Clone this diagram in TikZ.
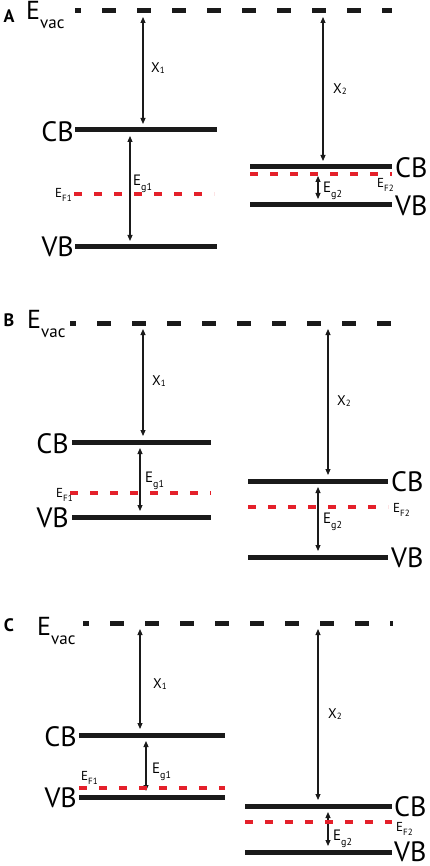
\documentclass[tikz,border=0pt]{standalone}
\usepackage{fontspec}
\setmainfont{PT Sans}
\usetikzlibrary{arrows.meta}
\definecolor{fermiRed}{HTML}{E4202A}
\definecolor{levelBlack}{HTML}{1A1A1A}

\newcommand{\bigsz}{\fontsize{28}{28}\selectfont}
\newcommand{\Evac}{{\fontsize{26}{26}\selectfont E}\raisebox{-9pt}{\fontsize{17}{17}\selectfont vac}}
\newcommand{\Xlab}[1]{{\fontsize{14}{14}\selectfont X}\raisebox{-1pt}{\fontsize{9}{9}\selectfont #1}}
\newcommand{\Eglab}[1]{{\fontsize{15}{15}\selectfont E}\raisebox{-5pt}{\fontsize{10}{10}\selectfont g#1}}
\newcommand{\EFlab}[1]{{\fontsize{13}{13}\selectfont E}\raisebox{-4pt}{\fontsize{9}{9}\selectfont F#1}}

\begin{document}
\begin{tikzpicture}[
    x=1pt, y=-1pt,
    bandline/.style={line width=5pt, levelBlack},
    vacline/.style={line width=5pt, levelBlack, dash pattern=on 14pt off 21pt, dash phase=8pt},
    fermiline/.style={line width=3.5pt, fermiRed, dash pattern=on 8pt off 12pt},
    gaparrow/.style={{Triangle[length=6pt,width=5pt]}-{Triangle[length=6pt,width=5pt]}, line width=1.1pt, levelBlack, shorten <=6pt, shorten >=6pt},
    bandlab/.style={font=\bigsz, inner sep=0pt},
    sublab/.style={inner sep=0pt, anchor=base west},
    panellab/.style={font=\fontsize{18}{18}\selectfont\bfseries, inner sep=0pt}
  ]
  \useasboundingbox (0,0) rectangle (429,866);

  % panel A
  \node[panellab] (A) at (9,16) {A};
  \node[sublab] (A-evac) at (26,20) {\Evac};
  \draw[vacline] (75,11) -- (392,11);
  \draw[bandline] (75,130) -- (217,130);
  \draw[bandline] (75,247) -- (217,247);
  \draw[bandline] (250,167) -- (392,167);
  \draw[bandline] (250,205) -- (392,205);
  \node[bandlab, anchor=east] (A-cb1) at (74,132) {CB};
  \node[bandlab, anchor=east] (A-vb1) at (74,247) {VB};
  \node[bandlab, anchor=west] (A-cb2) at (395,168) {CB};
  \node[bandlab, anchor=west] (A-vb2) at (395,206) {VB};
  \coordinate (A-x1a) at (143,11);  \coordinate (A-x1b) at (143,130);
  \coordinate (A-g1a) at (130,130); \coordinate (A-g1b) at (130,247);
  \coordinate (A-x2a) at (323,11);  \coordinate (A-x2b) at (323,167);
  \coordinate (A-g2a) at (318,170); \coordinate (A-g2b) at (318,205);
  \draw[gaparrow] (A-x1a) -- (A-x1b);
  \draw[gaparrow] (A-g1a) -- (A-g1b);
  \draw[gaparrow] (A-x2a) -- (A-x2b);
  \draw[gaparrow] (A-g2a) -- (A-g2b);
  \draw[fermiline] (74,194) -- (214,194);
  \draw[fermiline] (250,174) -- (392,174);
  \node[sublab] (A-chi1) at (151,73) {\Xlab{1}};
  \node[sublab] (A-eg1) at (133,186) {\Eglab{1}};
  \node[sublab] (A-ef1) at (55,198) {\EFlab{1}};
  \node[sublab] (A-chi2) at (333,94) {\Xlab{2}};
  \node[sublab] (A-eg2) at (323,193) {\Eglab{2}};
  \node[sublab] (A-ef2) at (377,188) {\EFlab{2}};

  % panel B
  \node[panellab] (B) at (9,320) {B};
  \node[sublab] (B-evac) at (27,328) {\Evac};
  \draw[vacline] (70,323) -- (392,323);
  \draw[bandline] (72,442) -- (211,442);
  \draw[bandline] (72,517) -- (211,517);
  \draw[bandline] (248,481) -- (388,481);
  \draw[bandline] (248,557) -- (388,557);
  \node[bandlab, anchor=east] (B-cb1) at (69,444) {CB};
  \node[bandlab, anchor=east] (B-vb1) at (69,518) {VB};
  \node[bandlab, anchor=west] (B-cb2) at (391,482) {CB};
  \node[bandlab, anchor=west] (B-vb2) at (391,558) {VB};
  \coordinate (B-x1a) at (143,323); \coordinate (B-x1b) at (143,442);
  \coordinate (B-g1a) at (140,442); \coordinate (B-g1b) at (140,517);
  \coordinate (B-x2a) at (328,323); \coordinate (B-x2b) at (328,481);
  \coordinate (B-g2a) at (318,481); \coordinate (B-g2b) at (318,557);
  \draw[gaparrow] (B-x1a) -- (B-x1b);
  \draw[gaparrow] (B-g1a) -- (B-g1b);
  \draw[gaparrow] (B-x2a) -- (B-x2b);
  \draw[gaparrow] (B-g2a) -- (B-g2b);
  \draw[fermiline] (70,493) -- (211,493);
  \draw[fermiline] (248,507) -- (388,507);
  \node[sublab] (B-chi1) at (152,385) {\Xlab{1}};
  \node[sublab] (B-eg1) at (145,482) {\Eglab{1}};
  \node[sublab] (B-ef1) at (56,497) {\EFlab{1}};
  \node[sublab] (B-chi2) at (337,405) {\Xlab{2}};
  \node[sublab] (B-eg2) at (323,523) {\Eglab{2}};
  \node[sublab] (B-ef2) at (393,512) {\EFlab{2}};

  % panel C
  \node[panellab] (C) at (9,625) {C};
  \node[sublab] (C-evac) at (37,635) {\Evac};
  \draw[vacline] (83,623) -- (393,623);
  \draw[bandline] (79,735) -- (225,735);
  \draw[bandline] (79,797) -- (225,797);
  \draw[bandline] (245,806) -- (392,806);
  \draw[bandline] (245,852) -- (392,852);
  \node[bandlab, anchor=east] (C-cb1) at (77,737) {CB};
  \node[bandlab, anchor=east] (C-vb1) at (77,798) {VB};
  \node[bandlab, anchor=west] (C-cb2) at (394,807) {CB};
  \node[bandlab, anchor=west] (C-vb2) at (394,852) {VB};
  \coordinate (C-x1a) at (140,623); \coordinate (C-x1b) at (140,735);
  \coordinate (C-g1a) at (146,735); \coordinate (C-g1b) at (146,797);
  \coordinate (C-x2a) at (318,623); \coordinate (C-x2b) at (318,806);
  \coordinate (C-g2a) at (328,806); \coordinate (C-g2b) at (328,852);
  \draw[gaparrow] (C-x1a) -- (C-x1b);
  \draw[gaparrow] (C-g1a) -- (C-g1b);
  \draw[gaparrow] (C-x2a) -- (C-x2b);
  \draw[gaparrow] (C-g2a) -- (C-g2b);
  \draw[fermiline] (79,788) -- (225,788);
  \draw[fermiline] (245,822) -- (392,822);
  \node[sublab] (C-chi1) at (153,688) {\Xlab{1}};
  \node[sublab] (C-eg1) at (152,773) {\Eglab{1}};
  \node[sublab] (C-ef1) at (81,780) {\EFlab{1}};
  \node[sublab] (C-chi2) at (328,718) {\Xlab{2}};
  \node[sublab] (C-eg2) at (333,840) {\Eglab{2}};
  \node[sublab] (C-ef2) at (396,831) {\EFlab{2}};
\end{tikzpicture}
\end{document}
